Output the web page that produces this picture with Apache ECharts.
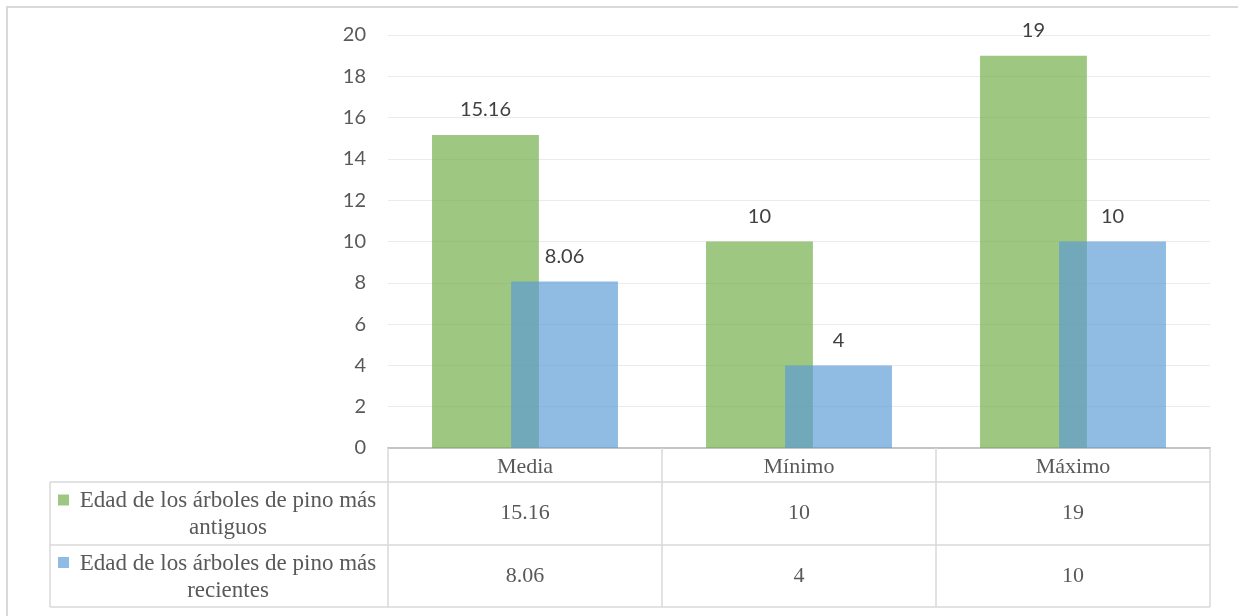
<!DOCTYPE html>
<html>
<head>
<meta charset="utf-8">
<script src="https://cdn.jsdelivr.net/npm/echarts@6/dist/echarts.min.js"></script>
<style>
  html, body { margin: 0; padding: 0; background: #ffffff; }
  #chart { width: 1238px; height: 616px; }
</style>
</head>
<body>
<div id="chart"></div>
<script>
// Categories and series values
const categories = ['Media', 'Mínimo', 'Máximo'];
const seriesNames = [
  'Edad de los árboles de pino más antiguos',
  'Edad de los árboles de pino más recientes'
];
const antiguos = [15.16, 10, 19];
const recientes = [8.06, 4, 10];

// Layout of the plot area and data table (pixels)
const W = 1238, H = 616;
const plotLeft = 388, plotRight = 1210, plotTop = 35, plotBottom = 448;
const tableLeft = 50;
const rowLines = [482, 545, 607];
const seriesColors = ['rgba(112,173,71,0.68)', 'rgba(91,155,213,0.68)'];
const serif = '"Liberation Serif", "Times New Roman", serif';
const sans = 'Lato, "Open Sans", sans-serif';
const tableText = '#595959';
const lineColor = '#D9D9D9';

// Wrap the last word of a series name onto a second line
const twoLines = s => s.replace(/ (\S+)$/, '\n$1');

const chart = echarts.init(document.getElementById('chart'), null, { renderer: 'canvas' });

// Table rows: one extra category axis per series carries its values
const valueAxis = (values, offset) => ({
  type: 'category',
  data: categories,
  position: 'bottom',
  offset: offset,
  axisLine: { show: false },
  axisTick: { show: false },
  axisLabel: {
    interval: 0,
    margin: 0,
    verticalAlign: 'middle',
    formatter: (v, i) => String(values[i]),
    fontFamily: serif,
    fontSize: 22,
    color: tableText
  }
});

// Row header cells: colour key + wrapped series name
const rowHeaders = [];
seriesNames.forEach((name, k) => {
  const top = rowLines[k], bottom = rowLines[k + 1];
  const mid = (top + bottom) / 2;
  rowHeaders.push({
    type: 'rect',
    shape: { x: 58, y: mid - 19, width: 11, height: 11 },
    style: { fill: seriesColors[k] }
  });
  rowHeaders.push({
    type: 'text',
    x: 228,
    y: mid + 1,
    style: {
      text: twoLines(name),
      align: 'center',
      verticalAlign: 'middle',
      lineHeight: 27,
      fontFamily: serif,
      fontSize: 23,
      fill: tableText
    }
  });
});

const tableLines = rowLines.map(y => ({
  type: 'line',
  shape: { x1: tableLeft, y1: y, x2: plotRight, y2: y },
  style: { stroke: lineColor, lineWidth: 1.5 }
}));
tableLines.push({
  type: 'line',
  shape: { x1: tableLeft, y1: rowLines[0], x2: tableLeft, y2: rowLines[2] },
  style: { stroke: lineColor, lineWidth: 1.5 }
});

const option = {
  backgroundColor: '#ffffff',
  animation: false,
  grid: {
    left: plotLeft,
    right: W - plotRight,
    top: plotTop,
    bottom: H - plotBottom
  },
  xAxis: [
    {
      type: 'category',
      data: categories,
      axisLine: { lineStyle: { color: '#C4C4C4', width: 2 } },
      axisTick: {
        show: true,
        interval: 0,
        length: rowLines[2] - plotBottom,
        lineStyle: { color: lineColor, width: 1.5 }
      },
      axisLabel: {
        interval: 0,
        margin: 8,
        fontFamily: serif,
        fontSize: 22,
        color: tableText
      }
    },
    valueAxis(antiguos, (rowLines[0] + rowLines[1]) / 2 - plotBottom),
    valueAxis(recientes, (rowLines[1] + rowLines[2]) / 2 - plotBottom)
  ],
  yAxis: {
    type: 'value',
    min: 0,
    max: 20,
    interval: 2,
    axisLine: { show: false },
    axisTick: { show: false },
    axisLabel: { margin: 22, fontFamily: sans, fontSize: 20, color: tableText },
    splitLine: { lineStyle: { color: '#EBEBEB', width: 1 } }
  },
  series: [antiguos, recientes].map((vals, k) => ({
    name: seriesNames[k],
    type: 'bar',
    xAxisIndex: 0,
    data: vals,
    barWidth: '39%',
    barGap: '-26%',
    itemStyle: { color: seriesColors[k] },
    label: {
      show: true,
      position: 'top',
      distance: 15,
      fontFamily: sans,
      fontSize: 20,
      color: '#404040'
    }
  })),
  graphic: [
    {
      type: 'rect',
      shape: { x: 7, y: 7, width: W + 20, height: H + 20 },
      style: { fill: 'none', stroke: lineColor, lineWidth: 2 },
      silent: true
    },
    ...tableLines,
    ...rowHeaders
  ]
};

chart.setOption(option);
</script>
</body>
</html>
